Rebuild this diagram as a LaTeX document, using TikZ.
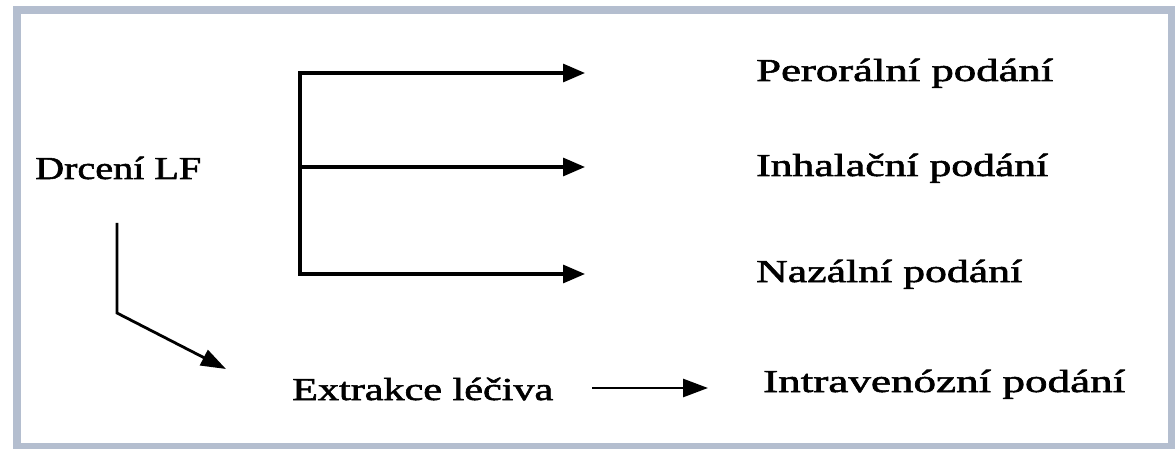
\documentclass[tikz,border=0pt]{standalone}
\usepackage{fontspec}
\setmainfont{Liberation Serif}[RawFeature={embolden=1.6}]
\usetikzlibrary{arrows.meta}
\definecolor{framecol}{RGB}{180,190,207}
\begin{document}
\begin{tikzpicture}[x=1pt,y=-1pt,
  lbl/.style={anchor=base west,inner sep=0pt,font=\fontsize{32}{38}\selectfont},
  link/.style={line width=3.2pt,line join=miter},
  bigtip/.style={-{Triangle[length=22pt,width=18pt]}},
  bothtip/.style={{Triangle[length=22pt,width=18pt]}-{Triangle[length=22pt,width=18pt]}}]
\useasboundingbox (0,0) rectangle (1175,449);
\fill[white] (0,0) rectangle (1175,449);
\begin{scope}
\clip (0,0) rectangle (1175,449);
\draw[line width=8pt, framecol] (17,10) rectangle (1172,447);
\end{scope}
% texts
\node[lbl] (drc) at (35,179) {\resizebox{166pt}{\height}{Drcení LF}};
\node[lbl] (per) at (756,81) {\resizebox{297pt}{\height}{Perorální podání}};
\node[lbl] (inh) at (756,176) {\resizebox{292pt}{\height}{Inhalační podání}};
\node[lbl] (naz) at (756,282) {\resizebox{266pt}{\height}{Nazální podání}};
\node[lbl] (ext) at (292,400) {\resizebox{261pt}{\height}{Extrakce léčiva}};
\node[lbl] (intr) at (763,392) {\resizebox{362pt}{\height}{Intravenózní podání}};
% connector points
\coordinate (b1) at (300,73);
\coordinate (b2) at (300,167);
\coordinate (b3) at (300,274);
\coordinate (t1) at (585,73);
\coordinate (t2) at (585,167);
\coordinate (t3) at (585,274);
\coordinate (d0) at (117,223);
\coordinate (d1) at (117,313);
\coordinate (d2) at (226,369);
\coordinate (e0) at (592,388);
\coordinate (e1) at (708,388);
% connectors
\draw[link,bothtip] (t1) -- (b1) -- (b3) -- (t3);
\draw[link,bigtip] (b2) -- (t2);
\draw[line width=2.8pt,line join=miter,-{Triangle[length=25pt,width=17pt]}] (d0) -- (d1) -- (d2);
\draw[line width=2.8pt,-{Triangle[length=25pt,width=18pt]}] (e0) -- (e1);
\end{tikzpicture}
\end{document}
